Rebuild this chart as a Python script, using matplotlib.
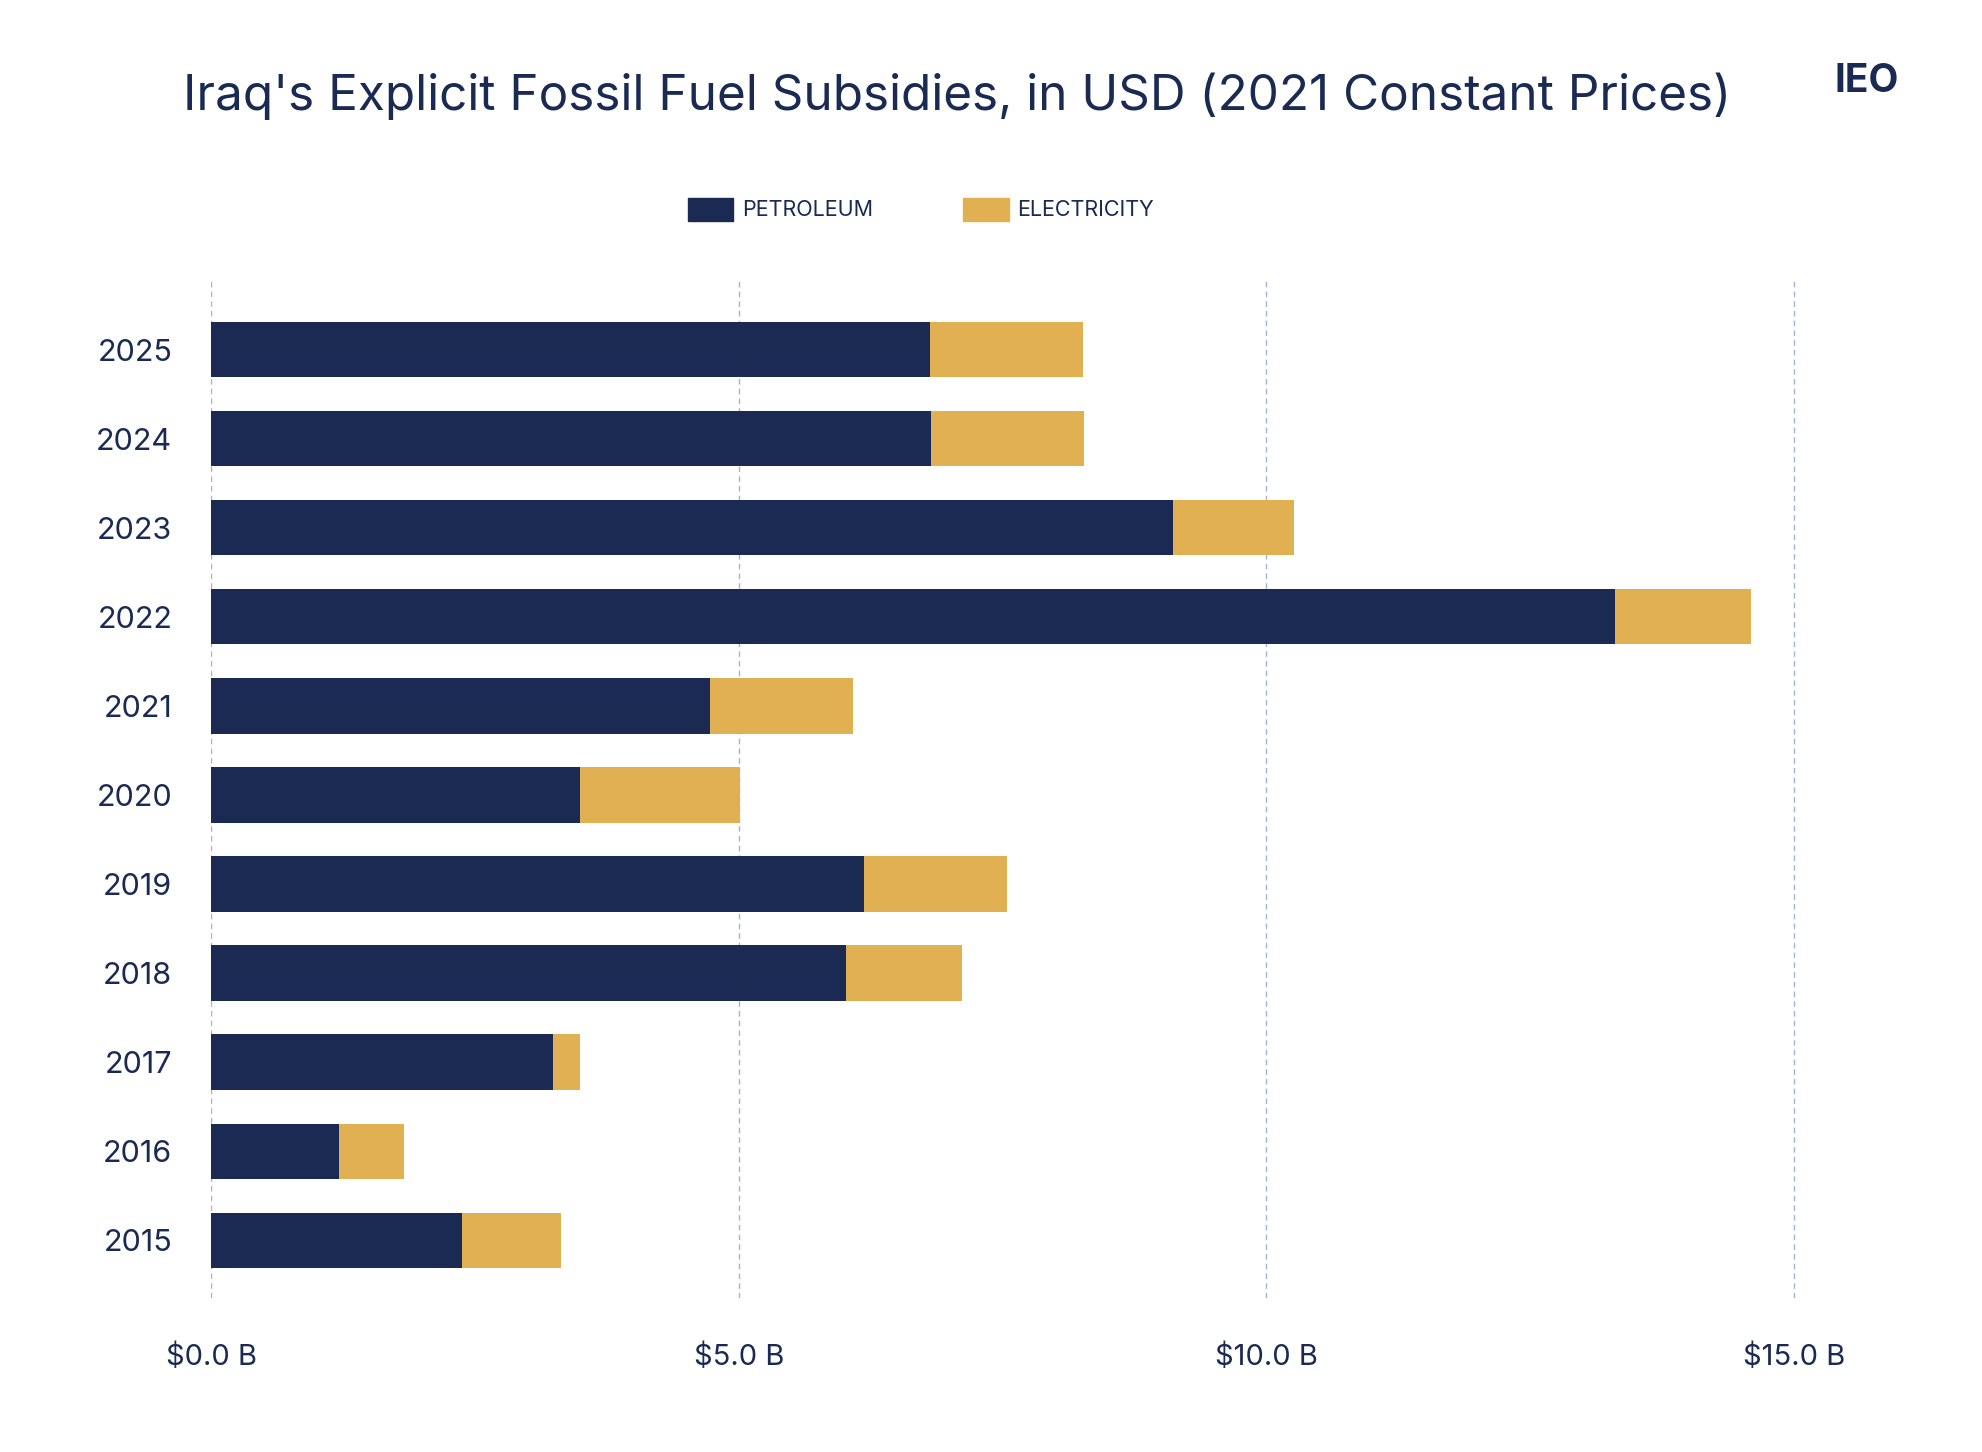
import numpy as np
import matplotlib.pyplot as plt
from matplotlib.patches import Rectangle

plt.rcParams['font.family'] = ['Inter', 'DejaVu Sans']

years = ['2015', '2016', '2017', '2018', '2019', '2020', '2021', '2022', '2023', '2024', '2025']
petroleum = [2.38, 1.21, 3.24, 6.02, 6.19, 3.50, 4.73, 13.30, 9.12, 6.82, 6.81]
total = [3.32, 1.83, 3.50, 7.12, 7.54, 5.01, 6.08, 14.59, 10.26, 8.27, 8.26]
electricity = [t - p for t, p in zip(total, petroleum)]
xticks = [0, 5, 10, 15]
xlabels = ['$0.0 B', '$5.0 B', '$10.0 B', '$15.0 B']

navy = '#1a2a52'
gold = '#e0b052'

fig = plt.figure(figsize=(19.82, 14.52), dpi=100)
fig.patch.set_facecolor('white')
ax = fig.add_axes([0.1065, 0.106, 0.8625, 0.701])

y = np.arange(len(years))
ax.barh(y, petroleum, height=0.62, color=navy, zorder=3)
ax.barh(y, electricity, left=petroleum, height=0.62, color=gold, zorder=3)

ax.set_xlim(0, 16.2)
ax.set_ylim(-0.65, 10.78)
ax.set_xticks(xticks)
ax.set_xticklabels(xlabels)
ax.set_yticks(y)
ax.set_yticklabels(years)
ax.tick_params(axis='x', length=0, pad=33, labelsize=21, labelcolor=navy)
ax.tick_params(axis='y', length=0, pad=28, labelsize=22, labelcolor=navy)
for s in ax.spines.values():
    s.set_visible(False)
ax.grid(axis='x', color='#a3b6cf', linestyle=(0, (4, 3)), linewidth=1, zorder=0)

fig.text(0.483, 0.934, "Iraq's Explicit Fossil Fuel Subsidies, in USD (2021 Constant Prices)",
         ha='center', va='center', fontsize=35.6, color=navy)
fig.text(0.942, 0.944, 'IEO', ha='center', va='center', fontsize=28,
         fontweight='bold', color=navy)

# legend
ly = 1 - 166 / 1150
for x0, col, lab in [(544, navy, 'PETROLEUM'), (762, gold, 'ELECTRICITY')]:
    fig.patches.append(Rectangle((x0 / 1568, ly - 0.008), 36 / 1568, 0.016,
                                 transform=fig.transFigure, color=col))
    fig.text((x0 + 43) / 1568, ly, lab, ha='left', va='center', fontsize=15.5, color=navy)

fig.savefig('out.png', dpi=100)
